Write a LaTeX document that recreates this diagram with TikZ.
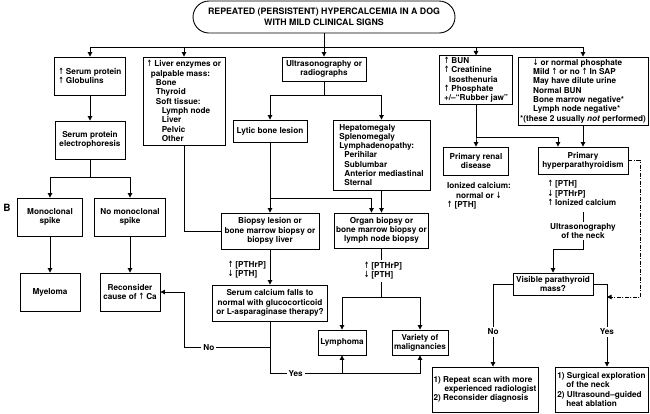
\documentclass[tikz,border=0pt]{standalone}
\usepackage{fontspec}
\setmainfont{TeX Gyre Heros}
\newfontfamily\symfont{DejaVu Sans}
\usetikzlibrary{positioning,arrows.meta}
\newcommand{\up}{{\symfont\bfseries\scalebox{0.75}[1.05]{↑}}}
\newcommand{\dn}{{\symfont\bfseries\scalebox{0.75}[1.05]{↓}}}

\begin{document}
\begin{tikzpicture}[
  x=1pt, y=-1pt,
  font=\fontsize{8.2}{9.3}\selectfont\bfseries,
  box/.style={draw, line width=0.9pt, align=center, inner sep=1.5pt},
  flow/.style={-{Triangle[length=4.5pt,width=4.5pt]}, line width=0.9pt},
  link/.style={line width=0.9pt},
  note/.style={align=left, inner sep=1pt},
  gap/.style={fill=white, inner sep=2pt}
]
\useasboundingbox (0,0) rectangle (650,413);

% top row
\node[box, rounded corners=16pt, minimum width=262pt, minimum height=32pt,
      font=\fontsize{8.8}{10.5}\selectfont\bfseries] (top) at (324,17)
  {REPEATED (PERSISTENT) HYPERCALCEMIA IN A DOG\\WITH MILD CLINICAL SIGNS};
\node[box, minimum width=71pt, minimum height=38pt, align=left] (serum) at (90,76)
  {\up\ Serum protein\\\up\ Globulins};
\node[box, minimum width=82pt, minimum height=88pt, align=left] (liver) at (184,101)
  {\up\ Liver enzymes or\\\hspace*{4pt}palpable mass:\\\hspace*{9pt}Bone\\\hspace*{9pt}Thyroid\\\hspace*{9pt}Soft tissue:\\\hspace*{15pt}Lymph node\\\hspace*{15pt}Liver\\\hspace*{15pt}Pelvic\\\hspace*{15pt}Other};
\node[box, minimum width=84pt, minimum height=24pt] (ultra) at (324,69)
  {Ultrasonography or\\radiographs};
\node[box, minimum width=73pt, minimum height=46pt, align=left] (bun) at (476,80)
  {\up\ BUN\\\up\ Creatinine\\\hspace*{5pt}Isosthenuria\\\up\ Phosphate\\+/--``Rubber jaw''};
\node[box, minimum width=130pt, minimum height=68pt, align=left] (phos) at (583,91)
  {\hspace*{13pt}\dn\ or normal phosphate\\\hspace*{13pt}Mild \up\ or no \up\ In SAP\\\hspace*{13pt}May have dilute urine\\\hspace*{13pt}Normal BUN\\\hspace*{13pt}Bone marrow negative*\\\hspace*{13pt}Lymph node negative*\\*(these 2 usually \textit{not} performed)};

% left column
\node[box, minimum width=70pt, minimum height=38pt] (elec) at (90,140) {Serum protein\\electrophoresis};
\node[box, minimum width=65pt, minimum height=38pt] (mono) at (50,217) {Monoclonal\\spike};
\node[box, minimum width=71pt, minimum height=38pt] (nomono) at (130,217) {No monoclonal\\spike};
\node[box, minimum width=60pt, minimum height=38pt] (myeloma) at (50,292) {Myeloma};
\node[box, minimum width=60pt, minimum height=38pt] (recon) at (130,292) {Reconsider\\cause of \up\ Ca};
\node[font=\fontsize{10}{12}\selectfont\bfseries] (panel) at (7,208) {B};

% middle
\node[box, minimum width=74pt, minimum height=22pt] (lytic) at (270,131) {Lytic bone lesion};
\node[box, minimum width=97pt, minimum height=70pt, align=left] (hepato) at (381.5,155)
  {Hepatomegaly\\Splenomegaly\\Lymphadenopathy:\\\hspace*{5pt}Perihilar\\\hspace*{5pt}Sublumbar\\\hspace*{5pt}Anterior mediastinal\\\hspace*{5pt}Sternal};
\node[box, minimum width=98pt, minimum height=36pt] (biopsy) at (270,231)
  {Biopsy lesion or\\bone marrow biopsy or\\biopsy liver};
\node[box, minimum width=93pt, minimum height=35pt] (organ) at (381.5,230.5)
  {Organ biopsy or\\bone marrow biopsy or\\lymph node biopsy};
\node[box, minimum width=115pt, minimum height=36pt] (serumca) at (270,303)
  {Serum calcium falls to\\normal with glucocorticoid\\or L-asparaginase therapy?};
\node[box, minimum width=48pt, minimum height=25pt] (lymphoma) at (342,342.5) {Lymphoma};
\node[box, minimum width=56pt, minimum height=25pt] (variety) at (420,342.5) {Variety of\\malignancies};
\node[note] (lblbio) at (247,270) {\up\ [PTHrP]\\\dn\ [PTH]};

% right column
\node[box, minimum width=65pt, minimum height=28pt] (renal) at (476,161) {Primary renal\\disease};
\node[box, minimum width=90pt, minimum height=27pt] (hyper) at (583,160.5) {Primary\\hyperparathyroidism};
\node[note] (renalinfo) at (479,196) {Ionized calcium:\\\hspace*{9pt}normal or \dn\\\up\ [PTH]};
\node[note] (hyperinfo) at (582,193) {\up\ [PTH]\\\dn\ [PTHrP]\\\up\ Ionized calcium};
\node[align=center, inner sep=1pt] (neck) at (583,231) {Ultrasonography\\of the neck};
\node[box, minimum width=80pt, minimum height=22pt] (visible) at (553,284) {Visible parathyroid\\mass?};
\node[box, minimum width=94pt, minimum height=45pt, align=left] (repeat) at (485,389.5)
  {1) Repeat scan with more\\\hspace*{11pt}experienced radiologist\\2) Reconsider diagnosis};
\node[box, minimum width=93pt, minimum height=45pt, align=left] (surg) at (601.5,389.5)
  {1) Surgical exploration\\\hspace*{9pt}of the neck\\2) Ultrasound--guided\\\hspace*{9pt}heat ablation};
\coordinate (ddend) at (607,297);

% connectors
\draw[flow] (top.south) -- ++(0,14) -| (serum);
\draw[flow] (top.south) -- ++(0,14) -| (liver);
\draw[flow] (top) -- (ultra);
\draw[flow] (top.south) -- ++(0,14) -| (bun);
\draw[flow] (top.south) -- ++(0,14) -| (phos);

\draw[flow] (serum) -- (elec);
\draw[flow] (elec.south) -- ++(0,18) -| (mono);
\draw[flow] (elec.south) -- ++(0,18) -| (nomono);
\draw[flow] (mono) -- (myeloma);
\draw[flow] (nomono) -- (recon);

\draw[flow] (ultra.south) -- ++(0,14) -| (lytic);
\draw[flow] (ultra.south) -- ++(0,14) -| (hepato);
\draw[link] (liver.south) |- (biopsy.west);
\draw[flow] (lytic) -- (biopsy);
\draw[flow] (lytic.south) -- ++(0,56) -| ([xshift=-10pt]organ.north);
\draw[flow] (hepato) -- (organ);
\draw[flow] (biopsy) -- (serumca);
\draw[flow] (organ.south) -- ++(0,49) -| (lymphoma);
\draw[flow] (organ.south) -- ++(0,49) -| (variety);
\node[note, gap] (lblorg) at (383,271) {\up\ [PTHrP]\\\dn\ [PTH]};

\draw[flow] (serumca.south) -- ++(0,52) -| (lymphoma);
\draw[flow] (serumca.south) -- ++(0,52) -| (variety);
\path (serumca.south) ++(0,52) -- node[pos=0.17, gap] {Yes} ++(151,0);
\draw[flow] (serumca.south) ++(0,26) -- node[pos=0.71, gap] {No} ++(-86,0) |- (recon.east);

\draw[flow] (bun.south) -- ++(0,33) -| (renal);
\draw[flow] (bun.south) -- ++(0,33) -| ([xshift=-25pt]hyper.north);
\draw[flow] (phos) -- (hyper);
\draw[link] (neck.north) -- ++(0,-10);
\draw[flow] (neck.south) -- ++(0,10) -| (visible);
\draw[flow] (visible.west) -| node[pos=0.79, gap] {No} ([xshift=8pt]repeat.north);
\draw[flow] (visible.east) -| node[pos=0.79, gap] {Yes} ([xshift=5.5pt]surg.north);
\draw[flow, line width=0.6pt, dash pattern=on 4pt off 1.5pt on 1pt off 1.5pt] (hyper.east) -- ++(12,0) |- (ddend);
\end{tikzpicture}
\end{document}
